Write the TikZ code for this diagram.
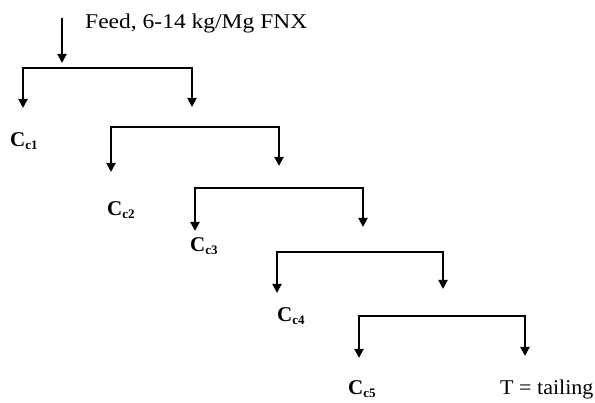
\documentclass[tikz,border=0pt]{standalone}
\usepackage{fontspec}
\usepackage{graphicx}
\setmainfont{Liberation Serif}
\usetikzlibrary{arrows.meta}
\newcommand{\Cc}[1]{\textbf{C\raisebox{-2.5pt}{\fontsize{13}{13}\selectfont #1}}}
\tikzset{
  lbl/.style={inner sep=0pt, anchor=base west, font=\fontsize{21}{21}\selectfont},
  flow/.style={line width=1.9pt, -{Triangle[width=9pt,length=9pt]}},
  split/.style={line width=1.9pt, {Triangle[width=9pt,length=9pt]}-{Triangle[width=9pt,length=9pt]}}
}
\begin{document}
\begin{tikzpicture}[x=1pt,y=-1pt]
\useasboundingbox (0,0) rectangle (595,403);
% feed
\node[lbl] (feed) at (85,29) {\scalebox{1.12}[1]{Feed, 6-14 kg/Mg FNX}};
\coordinate (fs) at (62,18);
\coordinate (ft) at (62,63);
\draw[flow] (fs) -- (ft);
% bracket 1
\coordinate (l1) at (23,68);  \coordinate (r1) at (192,68);
\coordinate (l1t) at (23,108); \coordinate (r1t) at (192,107);
\draw[split] (l1t) -- (l1) -- (r1) -- (r1t);
\node[lbl] (c1) at (10,147) {\Cc{c1}};
% bracket 2
\coordinate (l2) at (111,127); \coordinate (r2) at (279,127);
\coordinate (l2t) at (111,172); \coordinate (r2t) at (279,166);
\draw[split] (l2t) -- (l2) -- (r2) -- (r2t);
\node[lbl] (c2) at (107,216) {\Cc{c2}};
% bracket 3
\coordinate (l3) at (195,188); \coordinate (r3) at (363,188);
\coordinate (l3t) at (195,231); \coordinate (r3t) at (363,227);
\draw[split] (l3t) -- (l3) -- (r3) -- (r3t);
\node[lbl] (c3) at (190,252) {\Cc{c3}};
% bracket 4
\coordinate (l4) at (277,252); \coordinate (r4) at (443,252);
\coordinate (l4t) at (277,293); \coordinate (r4t) at (443,289);
\draw[split] (l4t) -- (l4) -- (r4) -- (r4t);
\node[lbl] (c4) at (277,322) {\Cc{c4}};
% bracket 5
\coordinate (l5) at (359,316); \coordinate (r5) at (525,316);
\coordinate (l5t) at (359,358); \coordinate (r5t) at (525,356);
\draw[split] (l5t) -- (l5) -- (r5) -- (r5t);
\node[lbl] (c5) at (348,395) {\Cc{c5}};
\node[lbl] (tail) at (500,395) {\scalebox{1.05}[1]{T = tailing}};
\end{tikzpicture}
\end{document}
